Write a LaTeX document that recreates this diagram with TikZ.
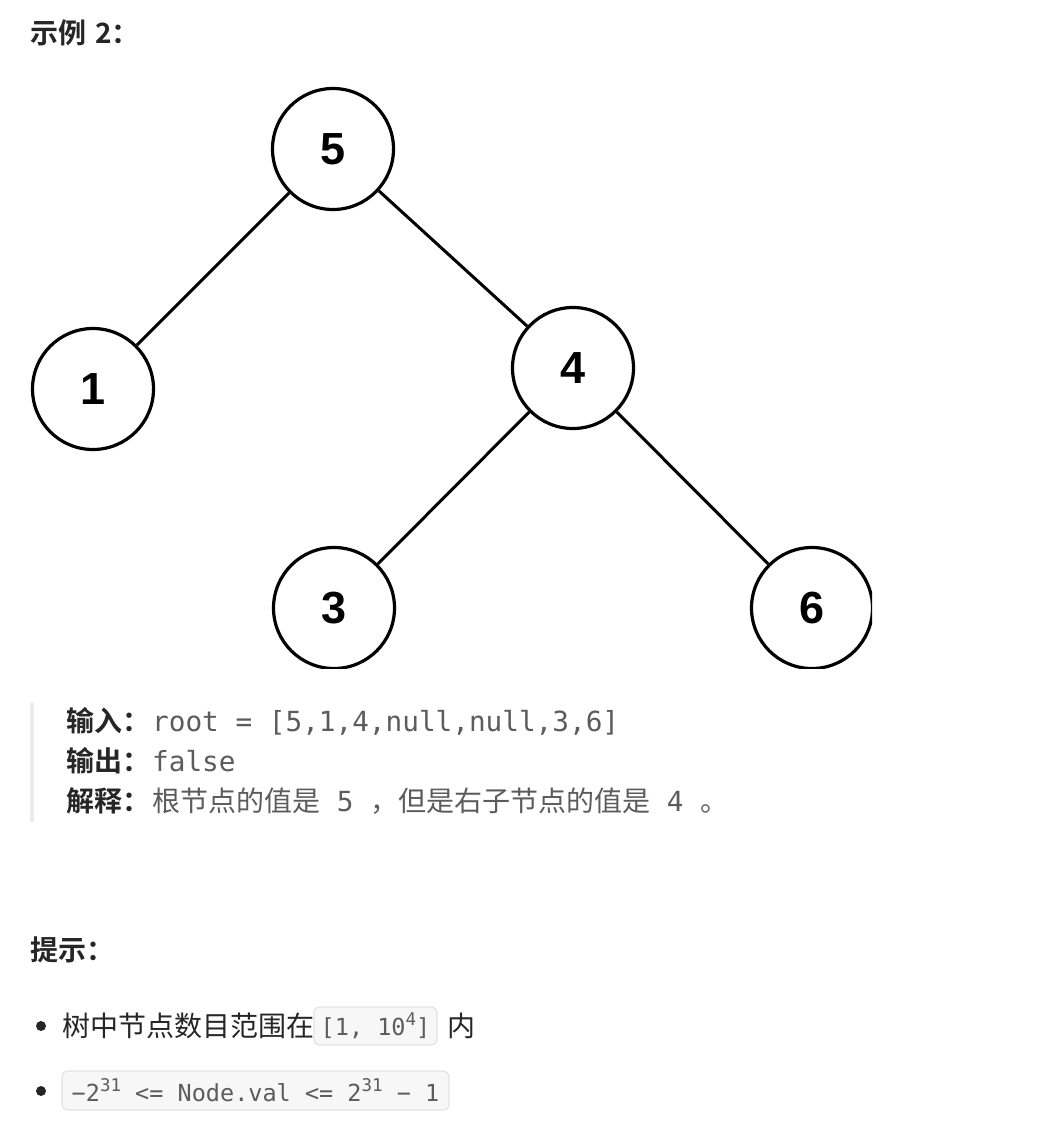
\documentclass[tikz,border=0pt]{standalone}
\usepackage{fontspec}
\setmainfont{Liberation Sans}
\newfontfamily\cjk{Noto Sans CJK SC}[BoldFont={Noto Sans CJK SC Bold}]
\newfontfamily\monof{DejaVu Sans Mono}
\newfontfamily\digitf{Liberation Sans}
\definecolor{txt}{HTML}{262626}
\definecolor{codetxt}{HTML}{5C5C5C}
\definecolor{codebg}{HTML}{F7F7F7}
\definecolor{codeline}{HTML}{E3E3E3}
\definecolor{barcol}{HTML}{EBEBEB}
\newcommand\cjkc[1]{{\cjk\fontsize{28}{30}\selectfont #1}}
\newcommand\supx[1]{\raisebox{0.42em}{\fontsize{17.5}{17.5}\selectfont #1}}
\tikzset{
  tn/.style={circle,draw=black,line width=3.2pt,minimum size=121pt,inner sep=0pt,
    font=\digitf\bfseries\fontsize{45}{45}\selectfont},
  edge/.style={line width=3pt,draw=black},
  head/.style={anchor=base west,inner sep=0pt,text=txt,font=\cjk\bfseries\fontsize{28}{30}\selectfont},
  lbl/.style={anchor=base west,inner sep=0pt,text=txt,font=\cjk\bfseries\fontsize{28}{30}\selectfont},
  codet/.style={anchor=base west,inner sep=0pt,text=codetxt,font=\monof\fontsize{27.7}{30}\selectfont},
  plain/.style={anchor=base west,inner sep=0pt,text=txt,font=\cjk\fontsize{28}{30}\selectfont},
  codebox/.style={draw=codeline,fill=codebg,line width=1.2pt,rounded corners=6pt,inner sep=0pt,
    text=codetxt,font=\monof\fontsize{23.5}{26}\selectfont},
  bul/.style={circle,fill=txt,inner sep=0pt,minimum size=10pt}
}
\begin{document}
\begin{tikzpicture}[x=1pt,y=-1pt]
\useasboundingbox[fill=white] (0,0) rectangle (1048,1143);
% title
\node[head] (title) at (30,43) {示例\hspace{9pt}2：};
% tree
\begin{scope}
\clip (0,80) rectangle (872,668);
\node[tn] (n5) at (333,149) {5};
\node[tn] (n1) at (93,389) {1};
\node[tn] (n4) at (573,368) {4};
\node[tn] (n3) at (334,608) {3};
\node[tn] (n6) at (812,608) {6};
\draw[edge] (n5) -- (n1);
\draw[edge] (n5) -- (n4);
\draw[edge] (n4) -- (n3);
\draw[edge] (n4) -- (n6);
\end{scope}
% blockquote
\fill[barcol] (30,703) rectangle (34,822);
\node[lbl] (l1) at (66,731) {输入：};
\node[codet] (c1) at (152,731) {root = [5,1,4,null,null,3,6]};
\node[lbl] (l2) at (66,771) {输出：};
\node[codet] (c2) at (152,771) {false};
\node[lbl] (l3) at (66,811) {解释：};
\node[codet] (c3) at (152,811) {\cjkc{根节点的值是}\ 5\ \cjkc{，但是右子节点的值是}\ 4\ \cjkc{。}};
% hints
\node[head] (hint) at (30,960) {提示：};
\node[bul] (b1) at (41,1026) {};
\node[plain] (t1) at (62,1036) {树中节点数目范围在};
\node[codebox,minimum width=123pt,minimum height=38pt] (k1) at (375.5,1026) {[1, 10\supx{4}]};
\node[plain] (t2) at (447,1036) {内};
\node[bul] (b2) at (41,1091) {};
\node[codebox,minimum width=387pt,minimum height=39pt] (k2) at (255.5,1090.5) {−2\supx{31} <= Node.val <= 2\supx{31} − 1};
\end{tikzpicture}
\end{document}
